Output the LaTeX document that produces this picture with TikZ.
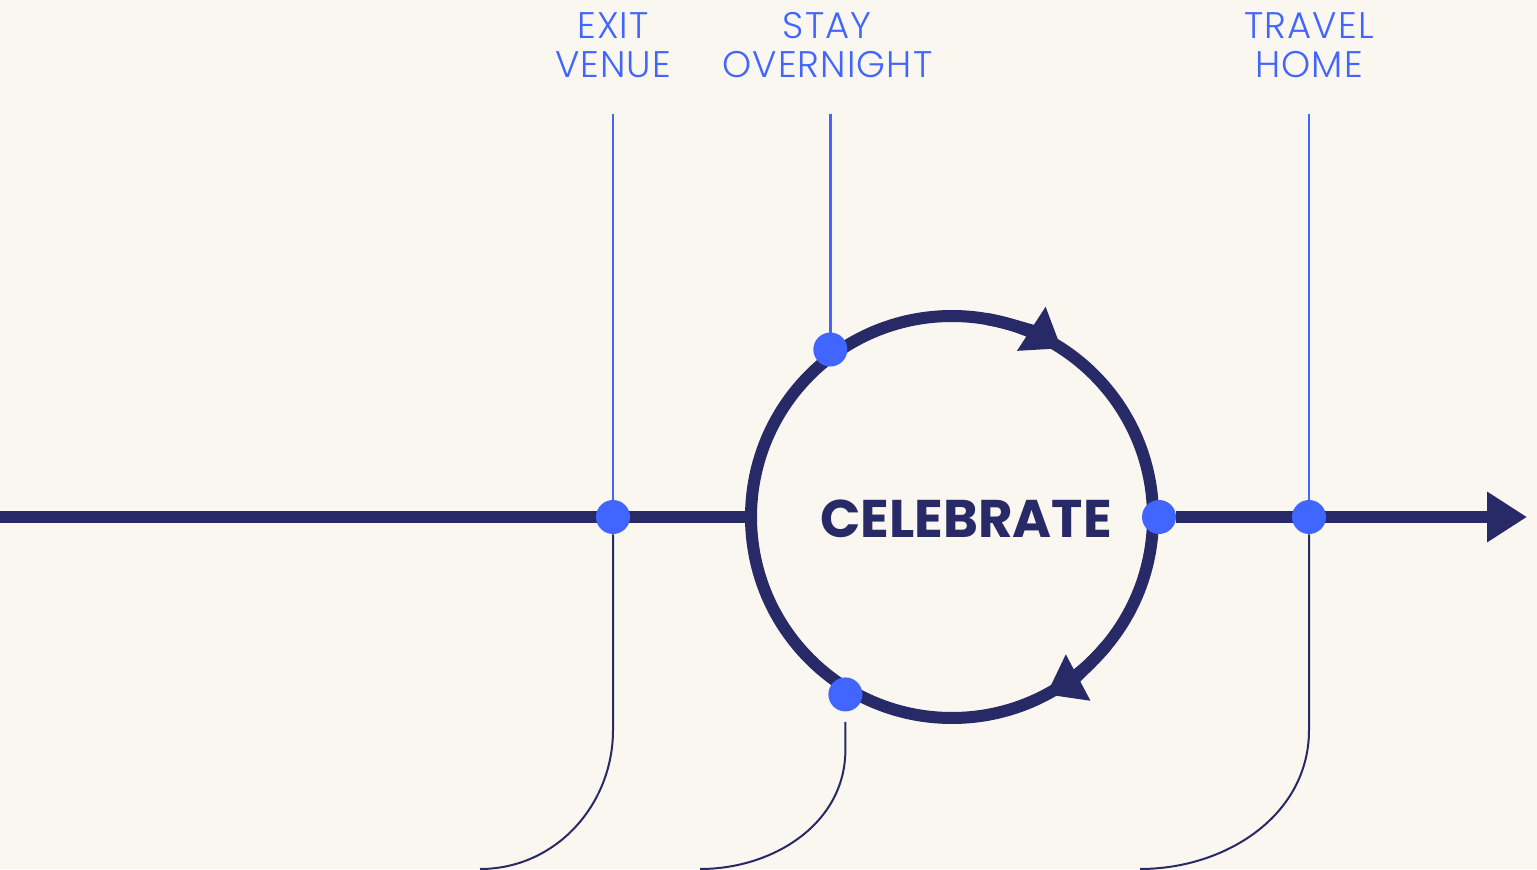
\documentclass[tikz,border=0pt]{standalone}
\usepackage{fontspec}
\setmainfont{Poppins}
\newfontfamily\labelfont[LetterSpace=3]{Poppins Light}
\usepackage{tikz}
\usetikzlibrary{arrows.meta, positioning, calc}
\definecolor{navy}{HTML}{272A66}
\definecolor{brightblue}{HTML}{4165FF}
\definecolor{paper}{HTML}{FAF6F0}
\pgfdeclarelayer{paperlayer}
\pgfdeclarelayer{linelayer}
\pgfsetlayers{paperlayer,linelayer,main}

\begin{document}
\begin{tikzpicture}[
  x=0.5pt, y=0.5pt,
  ring/.style={circle, draw=navy, line width=6pt, minimum size=201pt, inner sep=0pt},
  dot/.style={circle, fill=brightblue, minimum size=17pt, inner sep=0pt},
  axis/.style={navy, line width=6pt},
  tick/.style={brightblue, line width=1.2pt},
  trail/.style={navy, line width=1pt},
  lab/.style={text=brightblue, font=\labelfont\fontsize{18.5}{19.5}\selectfont, align=center, inner sep=0pt},
  head/.style={-{Triangle[length=18pt, width=25pt]}}
]
\begin{pgfonlayer}{paperlayer}
\fill[paper] (0,0) rectangle (1537,869);
\end{pgfonlayer}
\useasboundingbox (0,0) rectangle (1537,869);

\node[ring] (ring) at (952,352) {};
\node[text=navy, font=\bfseries\fontsize{26.5}{30}\selectfont, inner sep=0pt] (celebrate) at (966,350) {CELEBRATE};

\node[dot] (exit) at (613,352) {};
\node[dot] (stay) at (ring.126) {};
\node[dot] (after) at (ring.239) {};
\node[dot] (rejoin) at (ring.east) {};
\node[dot] (travel) at (1309,352) {};

\coordinate (start) at (0,352);
\coordinate (tip) at (1527,352);
\coordinate (exittop) at (613,755);
\coordinate (staytop) at (stay |- exittop);
\coordinate (traveltop) at (1309,755);
\coordinate (exitbend) at (613,139);
\coordinate (exitend) at (480,0);
\coordinate (afterbend) at ($(after.south)+(0,-38)$);
\coordinate (afterend) at (700,0);
\coordinate (travelbend) at (1309,139);
\coordinate (travelend) at (1140,0);

\node[lab, above=18pt of exittop] (exitlab) {EXIT\\VENUE};
\node[lab, above=18pt of staytop, xshift=-1.5pt] (staylab) {STAY\\OVERNIGHT};
\node[lab, above=18pt of traveltop] (travellab) {TRAVEL\\HOME};

\begin{pgfonlayer}{linelayer}
\draw[axis] (start) -- (ring.west);
\draw[axis, -{Triangle[length=20pt, width=24pt]}] (rejoin) -- (tip);
\draw[tick] (exittop) -- (exit);
\draw[tick] (staytop) -- (stay.center);
\draw[tick] (traveltop) -- (travel);
\draw[trail] (exit) -- (exitbend) to[out=-90, in=0] (exitend);
\draw[trail] ([yshift=-5pt]after.south) -- (afterbend) to[out=-90, in=0] (afterend);
\draw[trail] (travel) -- (travelbend) to[out=-90, in=0] (travelend);
\end{pgfonlayer}

% arrowheads on the loop
\draw[axis, head] ($(ring.center)+(80:201)$) arc[start angle=80, end angle=57, radius=201];
\draw[axis, head] ($(ring.center)+(-40:201)$) arc[start angle=-40, end angle=-62, radius=201];
\end{tikzpicture}
\end{document}
